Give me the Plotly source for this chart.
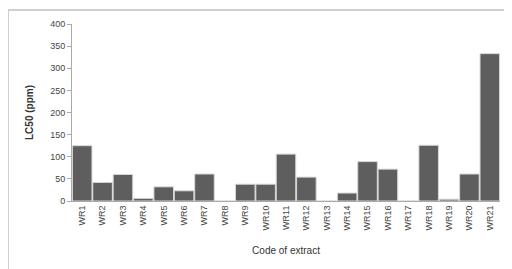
import plotly.graph_objects as go

categories = ["WR1", "WR2", "WR3", "WR4", "WR5", "WR6", "WR7", "WR8", "WR9", "WR10",
              "WR11", "WR12", "WR13", "WR14", "WR15", "WR16", "WR17", "WR18", "WR19", "WR20", "WR21"]
lc50 = [125, 42, 60, 6, 32, 23, 61, 0, 38, 38,
        106, 54, 0, 18, 89, 72, 0, 126, 4, 61, 333]
y_ticks = [0, 50, 100, 150, 200, 250, 300, 350, 400]

fig = go.Figure(go.Bar(
    x=categories, y=lc50,
    marker=dict(color="#5e5e5e", line=dict(color="#d8d8d8", width=1)),
))

fig.update_layout(
    width=504, height=261,
    margin=dict(l=64, r=12, t=16, b=68),
    paper_bgcolor="white", plot_bgcolor="white",
    bargap=0.04,
    showlegend=False,
    font=dict(family="Liberation Sans, Arial, sans-serif", size=9, color="#444"),
    xaxis=dict(
        automargin=False,
        tickangle=-90, showgrid=False, showline=True, linecolor="#aaa", linewidth=1,
        ticks="", tickfont=dict(size=9, color="#444"),
        title=dict(text="Code of extract", font=dict(size=10, color="#333"), standoff=17),
    ),
    yaxis=dict(
        automargin=False,
        range=[0, 400], tickvals=y_ticks, showgrid=False, zeroline=False,
        showline=True, linecolor="#aaa", linewidth=1,
        ticks="outside", ticklen=4, tickcolor="#aaa",
        tickfont=dict(size=9, color="#444"),
        title=dict(text="<b>LC50 (ppm)</b>", font=dict(size=10, color="#333"), standoff=14),
    ),
    shapes=[
        dict(type="line", xref="paper", yref="paper", x0=-0.1495, x1=1.03, y0=1.079, y1=1.079,
             line=dict(color="#cfcfcf", width=2)),
        dict(type="line", xref="paper", yref="paper", x0=-0.1495, x1=-0.1495, y0=1.079, y1=-0.39,
             line=dict(color="#cfcfcf", width=2)),
    ],
)

fig.write_html("out.html")
